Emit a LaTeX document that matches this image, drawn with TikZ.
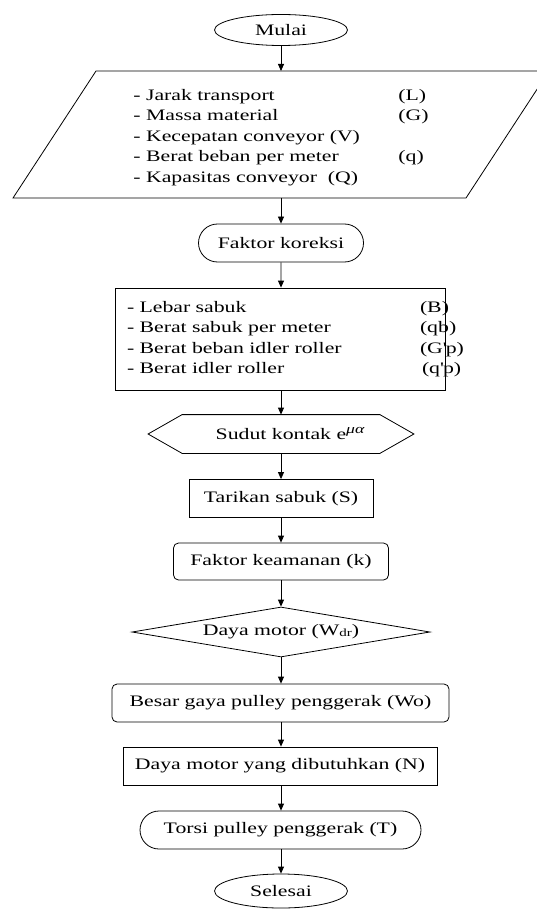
\documentclass[tikz,border=0pt]{standalone}
\usepackage{fontspec}
\setmainfont{Liberation Serif}[FakeStretch=1.36]
\usepackage{tikz}
\usetikzlibrary{arrows.meta, shapes.geometric, shapes.misc}
\tikzset{
    blok/.style={draw, line width=0.8pt, inner sep=0pt, font=\fontsize{16}{20.5}\selectfont},
    terminal/.style={blok, ellipse, minimum width=133pt, minimum height=31pt},
    stadium/.style={blok, rounded rectangle, minimum height=38pt},
    proc/.style={blok, rectangle, minimum height=38pt},
    procR/.style={blok, rectangle, rounded corners=5pt, minimum height=38pt},
    decide/.style={blok, diamond, aspect=6, minimum width=298pt, minimum height=50pt},
    arr/.style={line width=0.8pt, -{Triangle[length=7pt,width=6pt]}}
}

\begin{document}
\begin{tikzpicture}[x=1pt, y=-1pt]
    \def \cx {281}
    \useasboundingbox (0,0) rectangle (536,909);
    % mulai
    \node[terminal] (mulai) at (\cx,30) {Mulai};
    % input data
    \coordinate (pT) at (\cx,71);
    \coordinate (pB) at (\cx,198);
    \draw[line width=0.8pt] (96,71) -- (549,71) -- (466,198) -- (13,198) -- cycle;
    \node[blok, draw=none, anchor=west, align=left] (input) at (133,137.5)
        {\makebox[265pt][l]{- Jarak transport}(L)\\
         \makebox[265pt][l]{- Massa material}(G)\\
         - Kecepatan conveyor (V)\\
         \makebox[265pt][l]{- Berat beban per meter}(q)\\
         - Kapasitas conveyor\ \ (Q)};
    \node[stadium, minimum width=165pt] (koreksi) at (\cx,243) {Faktor koreksi};
    \node[proc, minimum width=330pt, minimum height=102pt, text width=306pt,
          inner xsep=12pt, align=left] (sabuk) at (280,339)
        {\makebox[293pt][l]{- Lebar sabuk}\rlap{(B)}\\
         \makebox[293pt][l]{- Berat sabuk per meter}\rlap{(qb)}\\
         \makebox[293pt][l]{- Berat beban idler roller}\rlap{(G\textquotesingle p)}\\
         \makebox[293pt][l]{- Berat idler roller}\rlap{\hspace{2pt}(q\textquotesingle p)}};
    % sudut kontak
    \node[blok, draw=none, minimum width=265pt, minimum height=38pt] (sudut) at (\cx,434)
        {\hspace*{18pt}Sudut kontak e\raisebox{6pt}{\fontsize{13}{13}\selectfont\itshape μα}};
    \draw[line width=0.8pt] ([xshift=34pt]sudut.north west) -- ([xshift=-34pt]sudut.north east)
        -- (sudut.east) -- ([xshift=-34pt]sudut.south east) -- ([xshift=34pt]sudut.south west)
        -- (sudut.west) -- cycle;
    \node[proc, minimum width=184pt] (tarik) at (\cx,498.5) {Tarikan sabuk (S)};
    \node[procR, minimum width=215pt, minimum height=37pt] (aman) at (\cx,561.5) {Faktor keamanan (k)};
    \node[decide] (daya) at (\cx,632)
        {Daya motor (W\raisebox{-1pt}{\fontsize{11}{11}\selectfont dr})};
    \node[procR, minimum width=337pt, minimum height=38pt] (gaya) at (280.5,703) {Besar gaya pulley penggerak (Wo)};
    \node[proc, minimum width=314pt] (butuh) at (280,766) {Daya motor yang dibutuhkan (N)};
    \node[stadium, minimum width=281pt] (torsi) at (280.5,830) {Torsi pulley penggerak (T)};
    \node[terminal, minimum height=34pt] (selesai) at (\cx,891) {Selesai};
    % arrows
    \draw[arr] (mulai) -- (pT);
    \draw[arr] (pB) -- (koreksi);
    \draw[arr] (koreksi) -- (koreksi |- sabuk.north);
    \draw[arr] (sabuk.south -| koreksi) -- (sudut);
    \draw[arr] (sudut) -- (tarik);
    \draw[arr] (tarik) -- (aman);
    \draw[arr] (aman) -- (daya);
    \draw[arr] (daya) -- (daya |- gaya.north);
    \draw[arr] (gaya.south -| daya) -- (daya |- butuh.north);
    \draw[arr] (butuh.south -| daya) -- (daya |- torsi.north);
    \draw[arr] (torsi.south -| daya) -- (selesai);
\end{tikzpicture}
\end{document}
